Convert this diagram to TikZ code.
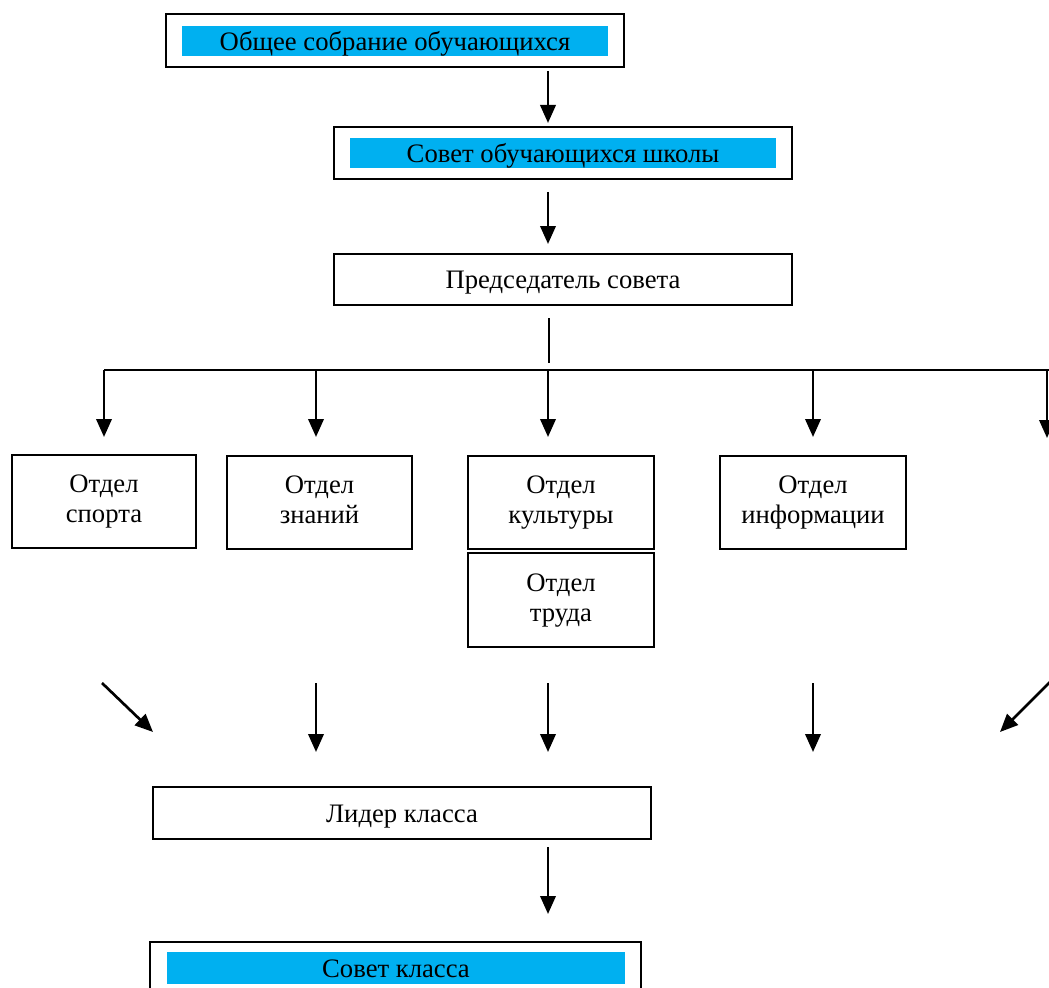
\documentclass[tikz,border=0pt]{standalone}
\usepackage{fontspec}
\setmainfont{Liberation Serif}
\usetikzlibrary{arrows.meta}
\definecolor{hdrcyan}{HTML}{00B0F0}
\begin{document}
\begin{tikzpicture}[x=0.75pt,y=-0.75pt,
  box/.style={draw, line width=1.5pt, rectangle, inner sep=0pt, align=center,
    font=\fontsize{20}{22.5}\selectfont},
  hdr/.style={fill=hdrcyan, rectangle, inner sep=0pt, align=center,
    font=\fontsize{20}{22.5}\selectfont},
  oneline/.style={text height=18pt, text depth=4.5pt},
  arr/.style={line width=2pt, -{Triangle[length=13.5pt,width=11.5pt]}},
  bus/.style={line width=1.2pt}]
\useasboundingbox (0,0) rectangle (1049,988);

% top boxes
\node[box, minimum width=458*0.75pt, minimum height=53*0.75pt] (b1) at (395,40.5) {};
\node[hdr, oneline, minimum width=426*0.75pt, minimum height=29*0.75pt] (h1) at (395,41.5) {Общее собрание обучающихся};
\node[box, minimum width=458*0.75pt, minimum height=52*0.75pt] (b2) at (563,153) {};
\node[hdr, oneline, minimum width=426*0.75pt, minimum height=28*0.75pt] (h2) at (563,153) {Совет обучающихся школы};
\node[box, oneline, minimum width=458*0.75pt, minimum height=51*0.75pt] (b3) at (563,279.5) {Председатель совета};

% departments
\node[box, minimum width=184*0.75pt, minimum height=93*0.75pt] (sp) at (104,501.5) {\strut Отдел\\\strut спорта};
\node[box, minimum width=185*0.75pt, minimum height=93*0.75pt] (zn) at (319.5,502.5) {\strut Отдел\\\strut знаний};
\node[box, minimum width=186*0.75pt, minimum height=93*0.75pt] (ku) at (561,502.5) {\strut Отдел\\\strut культуры};
\node[box, minimum width=186*0.75pt, minimum height=94*0.75pt] (tr) at (561,600) {\strut Отдел\\\strut труда};
\node[box, minimum width=186*0.75pt, minimum height=93*0.75pt] (in) at (813,502.5) {\strut Отдел\\\strut информации};

% lower boxes
\node[box, oneline, minimum width=498*0.75pt, minimum height=52*0.75pt] (ld) at (402,813) {Лидер класса};
\node[box, minimum width=491*0.75pt, minimum height=54*0.75pt] (sk) at (395.5,969) {};
\node[hdr, oneline, minimum width=458*0.75pt, minimum height=32*0.75pt] (hk) at (396,968) {Совет класса};

% coordinates
\coordinate (cx) at (548,0);
\coordinate (bus) at (549,370);
\coordinate (busL) at (104,370);
\coordinate (busZ) at (316,370);
\coordinate (busC) at (548,370);
\coordinate (busI) at (813,370);
\coordinate (busR) at (1047,370);
\coordinate (busE) at (1055,370);
\coordinate (rEnd) at (1047,438);

% main column arrows
\draw[arr, shorten <=2.25pt, shorten >=2.25pt] (b1.south -| cx) -- (b2.north -| cx);
\draw[arr, shorten <=9pt, shorten >=6.75pt] (b2.south -| cx) -- (b3.north -| cx);
\draw[bus, shorten <=9pt, shorten >=5.25pt] (b3.south -| bus) -- (bus);
\draw[bus] (busL) -- (busE);

% drops
\draw[arr, shorten >=12.75pt] (busL) -- (sp.north -| busL);
\draw[arr, shorten >=13.5pt] (busZ) -- (zn.north -| busZ);
\draw[arr, shorten >=13.5pt] (busC) -- (ku.north -| busC);
\draw[arr, shorten >=13.5pt] (busI) -- (in.north);
\draw[arr] (busR) -- (rEnd);

% lower free arrows
\coordinate (d1a) at (102,683); \coordinate (d1b) at (153,732);
\coordinate (d2a) at (316,683); \coordinate (d2b) at (316,752);
\coordinate (d3a) at (548,683); \coordinate (d3b) at (548,752);
\coordinate (d4a) at (813,683); \coordinate (d4b) at (813,752);
\coordinate (d5a) at (1050,682); \coordinate (d5b) at (1000,732);
\draw[arr] (d1a) -- (d1b);
\draw[arr] (d2a) -- (d2b);
\draw[arr] (d3a) -- (d3b);
\draw[arr] (d4a) -- (d4b);
\draw[arr] (d5a) -- (d5b);

% leader to class council
\draw[arr, shorten <=5.25pt, shorten >=20.25pt] (ld.south -| cx) -- (sk.north -| cx);
\end{tikzpicture}
\end{document}
